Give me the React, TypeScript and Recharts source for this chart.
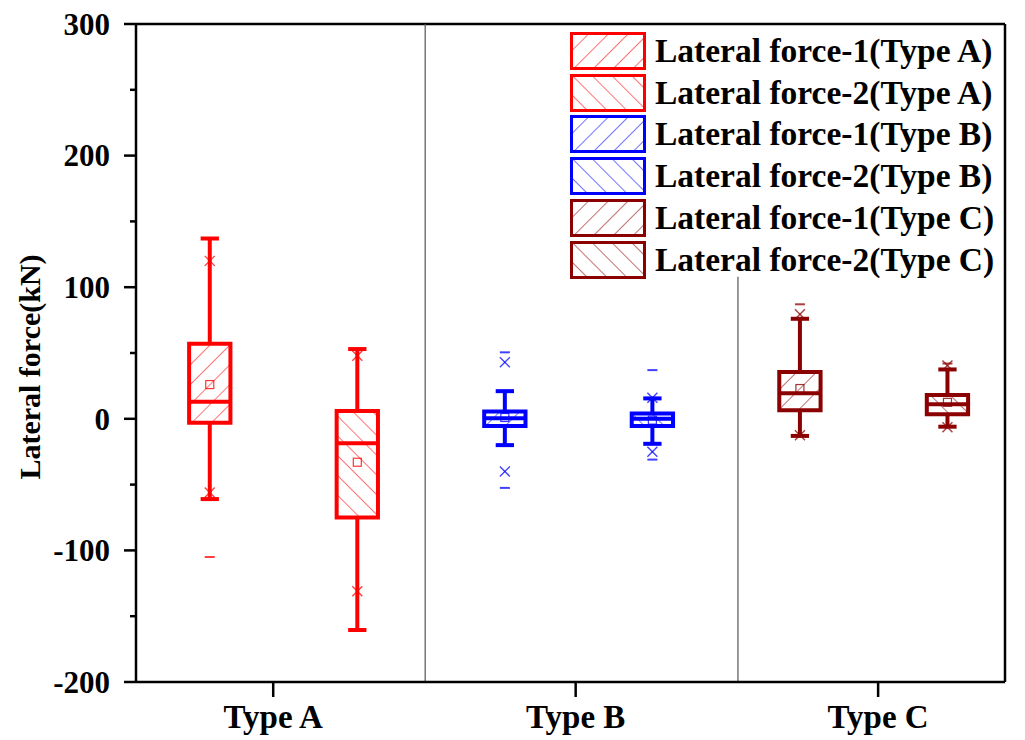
import React from 'react';
import { ComposedChart, XAxis, YAxis, ReferenceArea, ReferenceLine, Scatter, Legend } from 'recharts';

if (typeof document !== 'undefined') document.body.style.margin = '0';

const FONT = '"Liberation Serif", "Times New Roman", serif';

// one entry per box, left to right
const seriesNames = [
  'Lateral force-1(Type A)',
  'Lateral force-2(Type A)',
  'Lateral force-1(Type B)',
  'Lateral force-2(Type B)',
  'Lateral force-1(Type C)',
  'Lateral force-2(Type C)',
];
const seriesColors = ['#ff0000', '#ff0000', '#0000ff', '#0000ff', '#8b0000', '#8b0000'];
const hatchAngles = [45, -45, 45, -45, 45, -45];
const boxPositions = [1, 2, 3, 4, 5, 6];

const whiskerHigh = [137, 53, 21, 15.5, 76, 37.5];
const q3 = [57, 6, 5.5, 4, 35.5, 18];
const median = [13, -18.5, 0.5, 0, 19.5, 11];
const q1 = [-3, -75, -5.5, -5.5, 6.5, 3.5];
const whiskerLow = [-61, -160.5, -20, -19, -13, -6];
const mean = [26, -33, 1, -1, 23, 12.5];
const crossHigh = [120, 48, 43, 16, 79.5, 40.5];
const crossLow = [-56, -131, -40, -25, -12.5, -6.5];
const dashHigh = [137, 53, 50.5, 37, 87, 42];
const dashLow = [-105, -160.5, -52.5, -31, -13, -6];

const groupLabels = ['Type A', 'Type B', 'Type C'];
const groupTicks = [1.43, 3.48, 5.53];
const separatorX = [2.46, 4.58];
const separatorTop = [300, 108];

const yTicks = [-200, -150, -100, -50, 0, 50, 100, 150, 200, 250, 300];
const majorYTicks = [-200, -100, 0, 100, 200, 300];
const xDomain = [0.5, 6.39];

const BOX_HALF = 0.14;
const CAP_HALF = 0.062;
const HATCH_GAP = 14;

const YTick = (props: any) => {
  const { x, y, payload } = props;
  const major = majorYTicks.includes(payload.value);
  return (
    <g>
      <line x1={x - (major ? 12 : 6)} x2={x} y1={y} y2={y} stroke="#000" strokeWidth={2.5} />
      {major && (
        <text x={x - 26} y={y} dy="0.35em" textAnchor="end" fontFamily={FONT} fontWeight="bold" fontSize={31} fill="#000">
          {payload.value}
        </text>
      )}
    </g>
  );
};

const XTick = (props: any) => {
  const { x, y, payload } = props;
  const idx = groupTicks.indexOf(payload.value);
  return (
    <text x={x} y={y} dy={31} textAnchor="middle" fontFamily={FONT} fontWeight="bold" fontSize={33} fill="#000">
      {groupLabels[idx]}
    </text>
  );
};

const YLabel = (props: any) => {
  const vb = props.viewBox || { x: 0, y: 24, width: 136, height: 658 };
  const cx = vb.x + 40;
  const cy = vb.y + vb.height / 2 + 14;
  return (
    <text transform={`translate(${cx},${cy}) rotate(-90)`} textAnchor="middle" fontFamily={FONT} fontWeight="bold" fontSize={30} fill="#000">
      Lateral force(kN)
    </text>
  );
};

const hatchPattern = (id: string, color: string, angle: number) => (
  <pattern key={id} id={id} patternUnits="userSpaceOnUse" width={HATCH_GAP} height={HATCH_GAP} patternTransform={`rotate(${angle})`}>
    <line x1={0} y1={0} x2={0} y2={HATCH_GAP} stroke={color} strokeWidth={1.3} strokeOpacity={0.85} />
  </pattern>
);

const meanShape = (color: string) => (p: any) => (
  <rect x={p.cx - 4} y={p.cy - 4} width={8} height={8} fill="none" stroke={color} strokeWidth={1.2} strokeOpacity={0.8} />
);
const crossShape = (color: string) => (p: any) => (
  <g stroke={color} strokeWidth={1.4} strokeOpacity={0.75}>
    <line x1={p.cx - 5} y1={p.cy - 5} x2={p.cx + 5} y2={p.cy + 5} />
    <line x1={p.cx - 5} y1={p.cy + 5} x2={p.cx + 5} y2={p.cy - 5} />
  </g>
);
const dashShape = (color: string) => (p: any) => (
  <line x1={p.cx - 5} y1={p.cy} x2={p.cx + 5} y2={p.cy} stroke={color} strokeWidth={2} strokeOpacity={0.75} />
);

const LegendBox = () => (
  <div style={{ fontFamily: FONT, fontWeight: 'bold', fontSize: 33.5, color: '#000' }}>
    {seriesNames.map((name, i) => (
      <div key={name} style={{ display: 'flex', alignItems: 'center', height: 41.8 }}>
        <svg width={76} height={38} style={{ display: 'block' }}>
          <defs>{hatchPattern(`leg-hatch-${i}`, seriesColors[i], hatchAngles[i])}</defs>
          <rect x={1.5} y={1.5} width={73} height={35} fill={`url(#leg-hatch-${i})`} stroke={seriesColors[i]} strokeWidth={3} />
        </svg>
        <span style={{ marginLeft: 9, whiteSpace: 'nowrap', lineHeight: '38px' }}>{name}</span>
      </div>
    ))}
  </div>
);

export default function App() {
  return (
    <div style={{ width: 1025, height: 740, background: '#fff' }}>
      <ComposedChart width={1025} height={740} margin={{ top: 24, right: 20, bottom: 0, left: 0 }}>
        <defs>{seriesColors.map((c, i) => hatchPattern(`hatch-${i}`, c, hatchAngles[i]))}</defs>
        <XAxis
          type="number"
          dataKey="x"
          domain={xDomain}
          allowDataOverflow
          ticks={groupTicks}
          interval={0}
          height={58}
          tickSize={15}
          tickMargin={0}
          tick={<XTick />}
          tickLine={{ stroke: '#000', strokeWidth: 2.5 }}
          axisLine={{ stroke: '#000', strokeWidth: 2.5 }}
        />
        <YAxis
          type="number"
          dataKey="y"
          domain={[-200, 300]}
          allowDataOverflow
          ticks={yTicks}
          interval={0}
          width={136}
          tickSize={0}
          tickMargin={0}
          tickLine={false}
          tick={<YTick />}
          axisLine={{ stroke: '#000', strokeWidth: 2.5 }}
          label={{ content: <YLabel /> }}
        />
        <Legend
          layout="vertical"
          align="center"
          verticalAlign="middle"
          wrapperStyle={{ position: 'absolute', left: 570, top: 30, width: 440, height: 252 }}
          content={() => <LegendBox />}
        />
        <ReferenceLine y={300} stroke="#000" strokeWidth={2.5} />
        <ReferenceLine x={xDomain[1]} stroke="#000" strokeWidth={2.5} />
        {separatorX.map((sx, i) => (
          <ReferenceLine
            key={`sep-${i}`}
            segment={[{ x: sx, y: -200 }, { x: sx, y: separatorTop[i] }]}
            stroke="#555"
            strokeWidth={1.2}
          />
        ))}
        {boxPositions.map((pos, i) => (
          <ReferenceLine
            key={`wh-${i}`}
            segment={[{ x: pos, y: q3[i] }, { x: pos, y: whiskerHigh[i] }]}
            stroke={seriesColors[i]}
            strokeWidth={4}
          />
        ))}
        {boxPositions.map((pos, i) => (
          <ReferenceLine
            key={`wl-${i}`}
            segment={[{ x: pos, y: q1[i] }, { x: pos, y: whiskerLow[i] }]}
            stroke={seriesColors[i]}
            strokeWidth={4}
          />
        ))}
        {boxPositions.map((pos, i) => (
          <ReferenceLine
            key={`ch-${i}`}
            segment={[{ x: pos - CAP_HALF, y: whiskerHigh[i] }, { x: pos + CAP_HALF, y: whiskerHigh[i] }]}
            stroke={seriesColors[i]}
            strokeWidth={4}
          />
        ))}
        {boxPositions.map((pos, i) => (
          <ReferenceLine
            key={`cl-${i}`}
            segment={[{ x: pos - CAP_HALF, y: whiskerLow[i] }, { x: pos + CAP_HALF, y: whiskerLow[i] }]}
            stroke={seriesColors[i]}
            strokeWidth={4}
          />
        ))}
        {boxPositions.map((pos, i) => (
          <ReferenceArea
            key={`box-${i}`}
            x1={pos - BOX_HALF}
            x2={pos + BOX_HALF}
            y1={q1[i]}
            y2={q3[i]}
            fill={`url(#hatch-${i})`}
            fillOpacity={1}
            stroke={seriesColors[i]}
            strokeWidth={4}
          />
        ))}
        {boxPositions.map((pos, i) => (
          <ReferenceLine
            key={`med-${i}`}
            segment={[{ x: pos - BOX_HALF, y: median[i] }, { x: pos + BOX_HALF, y: median[i] }]}
            stroke={seriesColors[i]}
            strokeWidth={4}
          />
        ))}
        {boxPositions.map((pos, i) => (
          <Scatter
            key={`mean-${i}`}
            data={[{ x: pos, y: mean[i] }]}
            dataKey="y"
            shape={meanShape(seriesColors[i])}
            isAnimationActive={false}
          />
        ))}
        {boxPositions.map((pos, i) => (
          <Scatter
            key={`cross-${i}`}
            data={[{ x: pos, y: crossHigh[i] }, { x: pos, y: crossLow[i] }]}
            dataKey="y"
            shape={crossShape(seriesColors[i])}
            isAnimationActive={false}
          />
        ))}
        {boxPositions.map((pos, i) => (
          <Scatter
            key={`dash-${i}`}
            data={[{ x: pos, y: dashHigh[i] }, { x: pos, y: dashLow[i] }]}
            dataKey="y"
            shape={dashShape(seriesColors[i])}
            isAnimationActive={false}
          />
        ))}
      </ComposedChart>
    </div>
  );
}
